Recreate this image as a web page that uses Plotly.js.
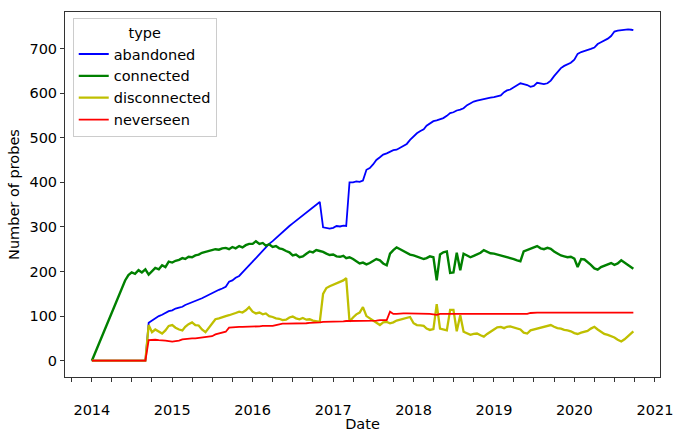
<!DOCTYPE html>
<html>
<head>
<meta charset="utf-8">
<script src="https://cdn.plot.ly/plotly-3.0.1.min.js"></script>
<style>html,body{margin:0;padding:0;background:#fff;}#chart{width:675px;height:432px;}</style>
</head>
<body>
<div id="chart"></div>
<script>
// Semi-monthly sampling dates (1st and 16th), Jan 2014 – Sep 2020, plus last day
const dates = [];
for (let y = 2014; y <= 2020; y++) {
  for (let mo = 1; mo <= 12; mo++) {
    if (y === 2020 && mo > 9) break;
    const mm = String(mo).padStart(2, '0');
    dates.push(y + '-' + mm + '-01', y + '-' + mm + '-16');
  }
}
dates.push('2020-09-25');

const seriesNames = ['abandoned', 'connected', 'disconnected', 'neverseen'];

const abandoned = [
  0,0,0,0,0,0,0,0,0,0,0,0,0,0,0,0, 0,85,90,95,100,103,107,111,
  113,117,119,121,125,128,130,133,136,140,144,148,151,155,159,162,166,177,180,186,190,198,205,214,
  222,230,239,247,255,262,268,275,282,289,296,302,308,314,320,325,331,337,344,349,356,299,297,296,
  298,302,301,303,302,400,400,402,401,404,428,432,440,450,456,462,465,468,472,473,477,482,486,495,
  504,510,515,519,527,532,537,539,541,544,549,555,557,561,563,566,573,578,581,583,585,587,588,590,
  591,593,595,602,606,608,613,617,622,620,618,614,616,623,621,620,622,628,638,648,656,661,664,668,
  675,688,692,694,696,699,702,710,714,717,722,728,738,740,741,742,743,742,
  741
];

const connected = [
  0,null,null,null,null,null,null,null,null,null,180,192,198,195,203,198,205,193,200,208,205,214,210,222,
  220,224,226,230,228,233,232,236,238,242,244,246,247,250,249,252,253,250,255,252,257,254,259,262,
  262,268,262,264,258,261,255,257,252,250,246,243,236,238,232,234,240,245,243,248,246,244,240,237,
  238,234,233,235,230,232,228,222,218,220,216,219,224,228,225,218,214,240,248,254,250,246,243,238,
  236,233,231,228,230,234,232,180,238,243,245,197,198,242,203,240,236,232,235,238,242,248,244,241,
  240,238,236,235,232,230,228,225,223,245,248,250,253,257,252,250,253,251,245,240,236,234,232,233,
  229,210,228,227,222,215,207,204,210,213,217,219,215,218,225,220,215,209,
  206
];

const disconnected = [
  0,0,0,0,0,0,0,0,0,0,0,0,0,0,0,0,0, 80,64,70,66,61,68,78,
  80,74,70,68,76,82,86,80,79,70,64,74,84,93,95,98,100,102,104,107,110,108,113,120,
  110,106,108,104,106,100,98,95,94,91,92,97,99,95,93,96,92,93,90,88,87,150,163,167,
  170,174,176,180,185,88,97,104,108,120,100,95,90,84,80,86,87,84,86,90,92,95,97,98,
  84,80,79,78,72,69,71,127,72,70,68,114,114,66,102,65,62,58,60,61,57,54,60,64,
  70,75,76,73,76,77,75,73,70,63,61,68,70,73,75,77,78,80,76,73,72,69,68,66,
  62,60,63,65,67,72,76,70,64,60,58,55,52,47,43,48,55,62,
  66
];

const neverseen = [
  0,0,0,0,0,0,0,0,0,0,0,0,0,0,0,0,0, 46,47,47,46,46,45,44,
  43,44,45,48,49,49,50,50,51,51,52,53,55,59,61,63,65,74,75,75,76,76,76,77,
  77,77,77,78,78,78,78,80,82,83,83,83,84,84,84,84,84,85,85,85,86,87,87,87,
  88,88,88,88,89,89,89,89,89,90,90,90,90,90,91,91,91,110,105,105,106,106,106,106,
  106,106,106,106,106,105,104,103,105,105,105,105,105,105,105,105,105,105,105,105,105,105,104,104,
  104,104,105,105,105,105,105,105,105,105,105,107,108,108,108,108,108,108,108,108,108,108,108,108,
  108,108,108,108,108,108,108,108,108,108,108,108,108,108,108,108,108,108,
  108
];

const seriesValues = [abandoned, connected, disconnected, neverseen];
const seriesColors = ['#0000ff', '#008000', '#bfbf00', '#ff0000'];
const seriesWidths = [1.8, 2.4, 2.3, 1.8];

const yTickVals = [0, 100, 200, 300, 400, 500, 600, 700];

const font = 'DejaVu Sans, sans-serif';
const fs = 14.5;

const traces = seriesNames.map((name, i) => ({
  type: 'scatter',
  mode: 'lines',
  name: name,
  x: dates,
  y: seriesValues[i],
  connectgaps: true,
  line: {color: seriesColors[i], width: seriesWidths[i]},
  hoverinfo: 'skip'
}));

const layout = {
  width: 675,
  height: 432,
  margin: {l: 65, r: 15, t: 12, b: 55, pad: 0},
  paper_bgcolor: '#ffffff',
  plot_bgcolor: '#ffffff',
  font: {family: font, size: fs, color: '#000'},
  showlegend: true,
  legend: {
    x: 0.013, y: 0.983, xanchor: 'left', yanchor: 'top',
    bgcolor: 'rgba(255,255,255,0.8)',
    bordercolor: '#cccccc', borderwidth: 1,
    font: {family: font, size: fs, color: '#000'},
    title: {text: 'type', side: 'top center', font: {family: font, size: fs, color: '#000'}},
    itemwidth: 30,
    entrywidth: 148,
    entrywidthmode: 'pixels',
    tracegroupgap: 0
  },
  xaxis: {
    type: 'date',
    range: ['2013-09-01', '2021-01-24'],
    tick0: '2014-01-01',
    dtick: 'M12',
    tickformat: '%Y',
    ticks: 'outside',
    ticklen: 4,
    tickwidth: 1,
    tickcolor: '#333',
    minor: {dtick: 'M3', ticks: 'outside', ticklen: 4, tickwidth: 1, tickcolor: '#333', showgrid: false},
    ticklabelstandoff: 16,
    showgrid: false,
    zeroline: false,
    showline: true,
    linecolor: '#333',
    linewidth: 1,
    mirror: true,
    tickfont: {family: font, size: fs, color: '#000'},
    title: {text: 'Date', standoff: 2, font: {family: font, size: fs, color: '#000'}},
    automargin: false
  },
  yaxis: {
    range: [-36.5, 781.8],
    tickvals: yTickVals,
    ticks: 'outside',
    ticklen: 4,
    tickwidth: 1,
    tickcolor: '#333',
    showgrid: false,
    zeroline: false,
    showline: true,
    linecolor: '#333',
    linewidth: 1,
    mirror: true,
    tickfont: {family: font, size: fs, color: '#000'},
    title: {text: 'Number of probes', standoff: 6, font: {family: font, size: fs, color: '#000'}},
    automargin: false
  }
};

Plotly.newPlot('chart', traces, layout, {displayModeBar: false, staticPlot: true});
</script>
</body>
</html>
